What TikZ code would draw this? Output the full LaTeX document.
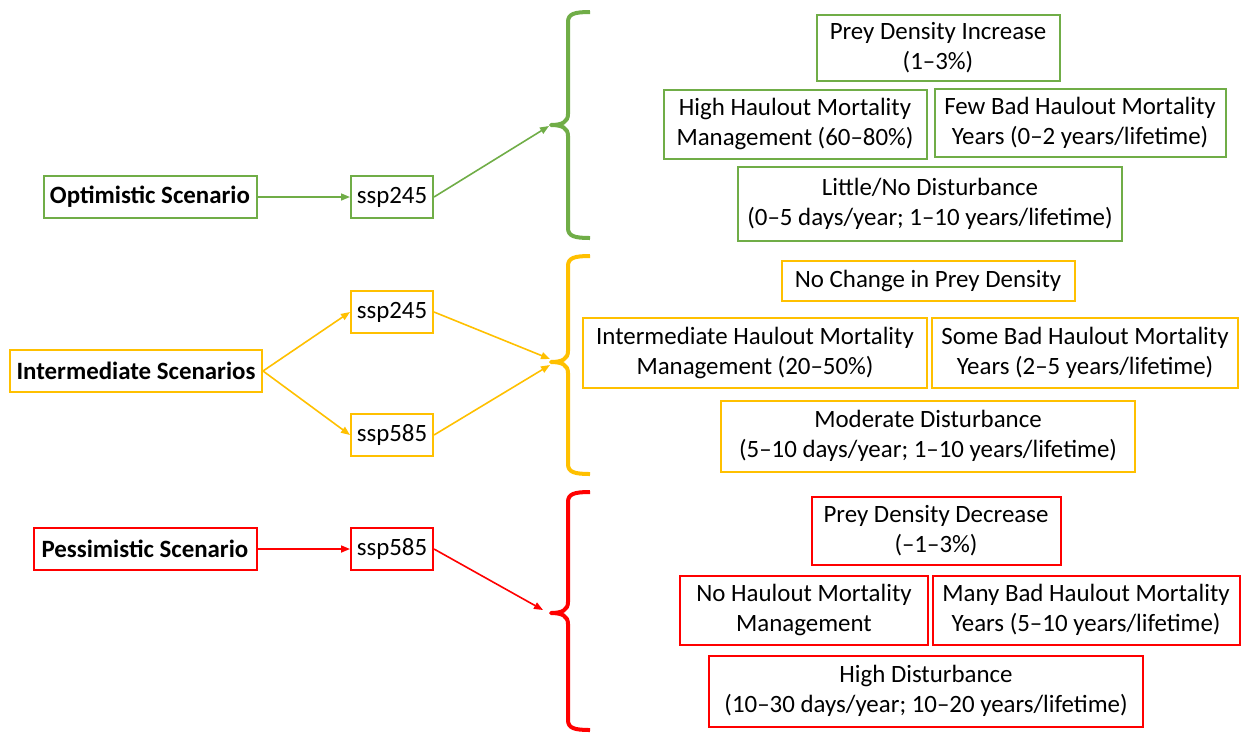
\documentclass[tikz,border=0pt]{standalone}
\usepackage{fontspec}
\setmainfont{Carlito}
\usetikzlibrary{arrows.meta}

\definecolor{optgreen}{RGB}{112,173,71}
\definecolor{midyellow}{RGB}{255,192,0}
\definecolor{pessred}{RGB}{255,0,0}

\begin{document}
\begin{tikzpicture}[
  x=1pt, y=-1pt,
  font=\fontsize{24.9}{30}\selectfont,
  box/.style={draw, line width=2pt, align=center, inner sep=0pt},
  scen/.style={box, font=\fontsize{24.9}{30}\selectfont\bfseries},
  link/.style={line width=1.6pt, -{Triangle[length=9pt,width=7pt]}},
  bracket/.style={line width=4pt, line join=round}
]
\useasboundingbox (0,0) rectangle (1242,732);

% optimistic
\node[scen, draw=optgreen, minimum width=213, minimum height=42] (opt) at (150,197) {Optimistic Scenario};
\node[box, draw=optgreen, minimum width=82, minimum height=42] (g245) at (392,197) {ssp245};
\coordinate (gtip) at (549,126);
\node[box, draw=optgreen, minimum width=243, minimum height=66] (gprey) at (938,48) {Prey Density Increase\\(1–3\%)};
\node[box, draw=optgreen, minimum width=263, minimum height=69] (ghaul) at (795,124) {High Haulout Mortality\\Management (60–80\%)};
\node[box, draw=optgreen, minimum width=291, minimum height=68] (gbad) at (1080,123) {Few Bad Haulout Mortality\\Years (0–2 years/lifetime)};
\node[box, draw=optgreen, minimum width=384, minimum height=74] (gdist) at (930,204) {Little/No Disturbance\\(0–5 days/year; 1–10 years/lifetime)};

\draw[link, optgreen] (opt) -- (g245);
\draw[link, optgreen] (g245.east) -- (gtip);
\draw[bracket, optgreen] (590,12) .. controls (574,12) and (568,14) .. (568,22) -- (568,114)
  .. controls (568,122) and (562,125) .. (551,125) .. controls (562,125) and (568,128) .. (568,136)
  -- (568,228) .. controls (568,236) and (574,238) .. (590,238);

% intermediate
\node[scen, draw=midyellow, minimum width=252, minimum height=42] (inter) at (136,371) {Intermediate Scenarios};
\node[box, draw=midyellow, minimum width=82, minimum height=42] (y245) at (392,312) {ssp245};
\node[box, draw=midyellow, minimum width=82, minimum height=42] (y585) at (392,435) {ssp585};
\coordinate (ytipa) at (550,359);
\coordinate (ytipb) at (550,365);
\node[box, draw=midyellow, minimum width=293, minimum height=40] (yprey) at (928,281) {No Change in Prey Density};
\node[box, draw=midyellow, minimum width=344, minimum height=70] (yhaul) at (755,353) {Intermediate Haulout Mortality\\Management (20–50\%)};
\node[box, draw=midyellow, minimum width=306, minimum height=70] (ybad) at (1085,353) {Some Bad Haulout Mortality\\Years (2–5 years/lifetime)};
\node[box, draw=midyellow, minimum width=414, minimum height=71] (ydist) at (928,436) {Moderate Disturbance\\(5–10 days/year; 1–10 years/lifetime)};

\draw[link, midyellow] (inter.east) -- (y245.west);
\draw[link, midyellow] (inter.east) -- (y585.west);
\draw[link, midyellow] (y245.east) -- (ytipa);
\draw[link, midyellow] (y585.east) -- (ytipb);
\draw[bracket, midyellow] (590,256) .. controls (574,256) and (568,258) .. (568,266) -- (568,351)
  .. controls (568,359) and (562,362) .. (551,362) .. controls (562,362) and (568,365) .. (568,373)
  -- (568,464) .. controls (568,472) and (574,474) .. (590,474);

% pessimistic
\node[scen, draw=pessred, minimum width=223, minimum height=42] (pess) at (145,549) {Pessimistic Scenario};
\node[box, draw=pessred, minimum width=82, minimum height=42] (r585) at (392,549) {ssp585};
\coordinate (rtip) at (543,610);
\node[box, draw=pessred, minimum width=249, minimum height=68] (rprey) at (936,531) {Prey Density Decrease\\(–1–3\%)};
\node[box, draw=pessred, minimum width=248, minimum height=69] (rhaul) at (804,610) {No Haulout Mortality\\Management};
\node[box, draw=pessred, minimum width=307, minimum height=69] (rbad) at (1086,610) {Many Bad Haulout Mortality\\Years (5–10 years/lifetime)};
\node[box, draw=pessred, minimum width=434, minimum height=71] (rdist) at (926,691) {High Disturbance\\(10–30 days/year; 10–20 years/lifetime)};

\draw[link, pessred] (pess) -- (r585);
\draw[link, pessred] (r585.east) -- (rtip);
\draw[bracket, pessred] (590,492) .. controls (574,492) and (568,494) .. (568,502) -- (568,602)
  .. controls (568,610) and (562,613) .. (551,613) .. controls (562,613) and (568,616) .. (568,624)
  -- (568,720) .. controls (568,728) and (574,730) .. (590,730);

\end{tikzpicture}
\end{document}
